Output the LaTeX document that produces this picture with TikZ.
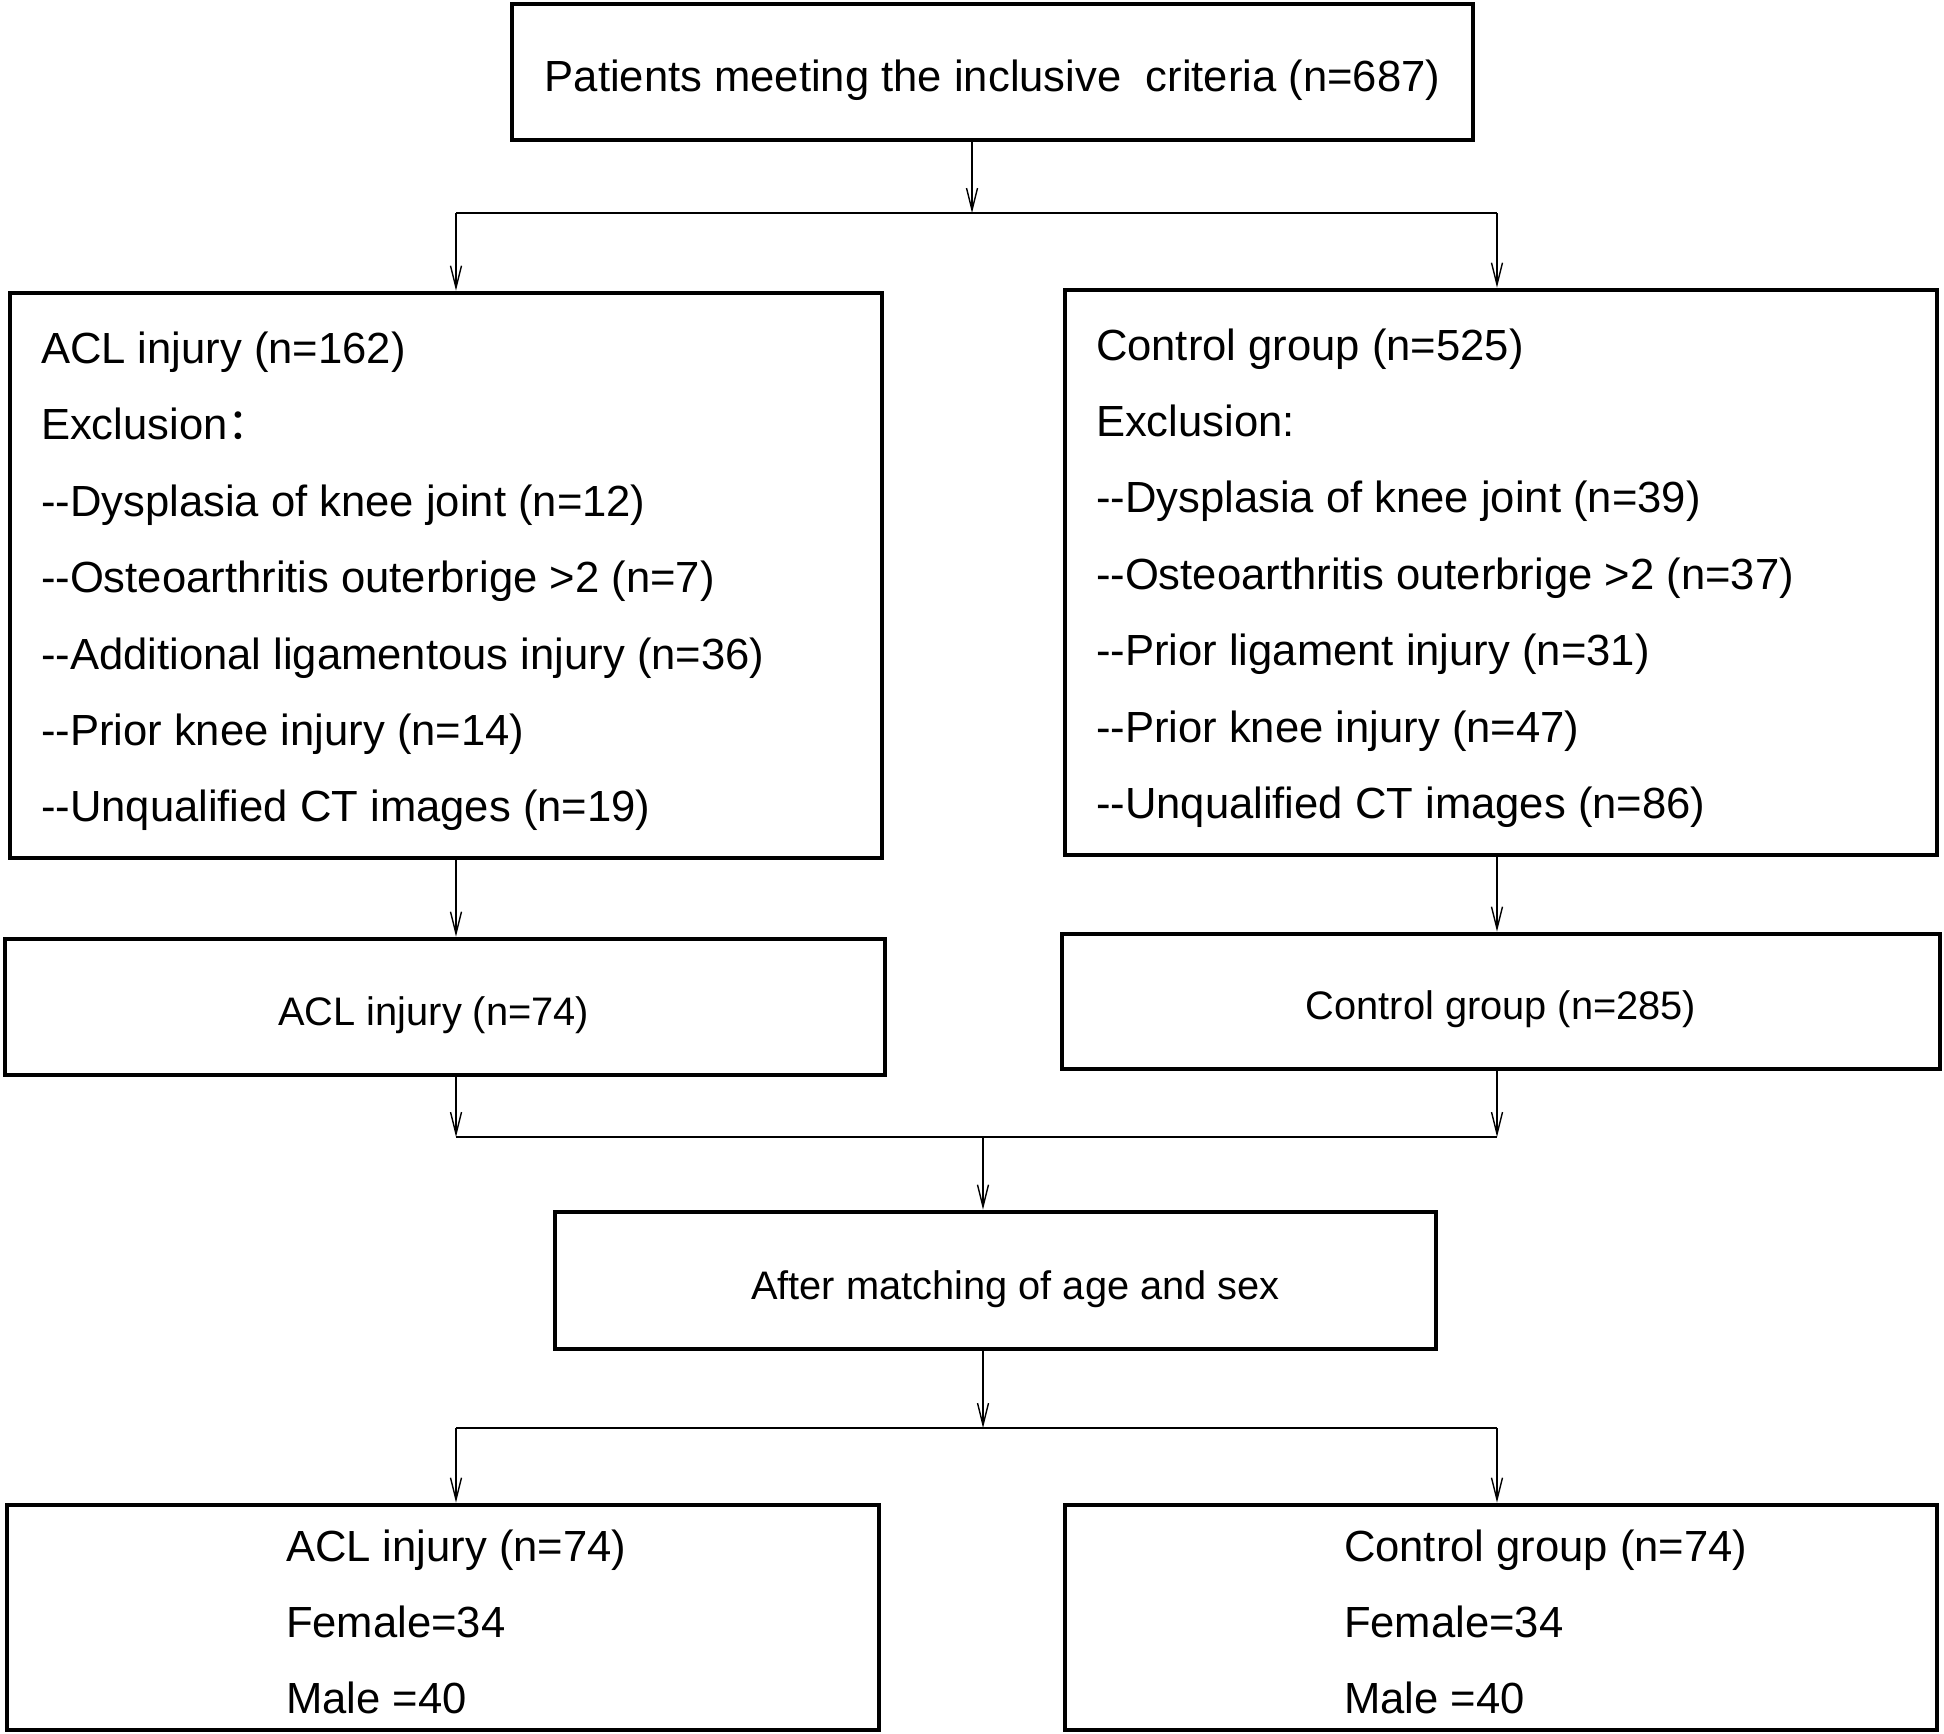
\documentclass[tikz,border=0pt]{standalone}
\usepackage{fontspec}
\setmainfont{Liberation Sans}
\newfontfamily\cjk{Noto Sans CJK SC}
\usepackage{tikz}
\usetikzlibrary{arrows.meta,positioning,calc}
\tikzset{
  >={Straight Barb[length=11pt,width=5.5pt]},
  caja/.style={draw, line width=2.4pt, inner sep=0pt},
  texto/.style={inner sep=0pt, align=left},
  grande/.style={font=\fontsize{21.8}{38.2}\selectfont},
  chico/.style={font=\fontsize{19.9}{24}\selectfont},
  flecha/.style={->, line width=0.7pt},
  barra/.style={line width=1.3pt},
}

\begin{document}
\begin{tikzpicture}[x=0.5pt, y=-0.5pt] % 1 px de la figura = 0.5pt
\useasboundingbox (0,0) rectangle (1944,1734);

% Cajas
\node[caja, minimum width=480.5pt, minimum height=68pt] (inicio) at (992.5,72) {};
\node[caja, minimum width=436pt, minimum height=282.5pt] (aclA) at (446,575.5) {};
\node[caja, minimum width=436pt, minimum height=282.5pt] (ctrlA) at (1501,572.5) {};
\node[caja, minimum width=440pt, minimum height=68pt] (aclB) at (445,1007) {};
\node[caja, minimum width=439pt, minimum height=67.5pt] (ctrlB) at (1501,1001.5) {};
\node[caja, minimum width=440.5pt, minimum height=68.5pt] (pareo) at (995.5,1280.5) {};
\node[caja, minimum width=436pt, minimum height=112.5pt] (aclC) at (443,1617.5) {};
\node[caja, minimum width=436pt, minimum height=112.5pt] (ctrlC) at (1501,1617.5) {};

% Textos
\node[texto, grande] (inicioT) at ([yshift=-4.3pt]inicio.center)
  {Patients meeting the inclusive\ \ criteria (n=687)};

\node[texto, grande, anchor=west] (aclAT) at ([xshift=16.5pt, yshift=-3pt]aclA.west)
  {ACL injury (n=162)\\
   Exclusion{\cjk ：}\\
   -{}-Dysplasia of knee joint (n=12)\\
   -{}-Osteoarthritis outerbrige >2 (n=7)\\
   -{}-Additional ligamentous injury (n=36)\\
   -{}-Prior knee injury (n=14)\\
   -{}-Unqualified CT images (n=19)};

\node[texto, grande, anchor=west] (ctrlAT) at ([xshift=16.5pt, yshift=-2.8pt]ctrlA.west)
  {Control group (n=525)\\
   Exclusion:\\
   -{}-Dysplasia of knee joint (n=39)\\
   -{}-Osteoarthritis outerbrige >2 (n=37)\\
   -{}-Prior ligament injury (n=31)\\
   -{}-Prior knee injury (n=47)\\
   -{}-Unqualified CT images (n=86)};

\node[texto, chico] (aclBT) at ([xshift=-5.6pt, yshift=-4.3pt]aclB.center) {ACL injury (n=74)};
\node[texto, chico] (ctrlBT) at ([yshift=-3.7pt]ctrlB.center) {Control group (n=285)};
\node[texto, chico] (pareoT) at ([xshift=10pt, yshift=-4.3pt]pareo.center) {After matching of age and sex};

\node[texto, grande, anchor=west] (aclCT) at ([xshift=140.5pt, yshift=-2.2pt]aclC.west)
  {ACL injury (n=74)\\Female=34\\Male =40};
\node[texto, grande, anchor=west] (ctrlCT) at ([xshift=140.5pt, yshift=-2.2pt]ctrlC.west)
  {Control group (n=74)\\Female=34\\Male =40};

% Uniones
\coordinate (s1) at (972,213);
\coordinate (hL1) at (456,213);
\coordinate (hR1) at (1497,213);
\coordinate (hL2) at (456,1137);
\coordinate (hR2) at (1497,1137);
\coordinate (s2) at (983,1137);
\coordinate (s3) at (983,1428);
\coordinate (hL3) at (456,1428);
\coordinate (hR3) at (1497,1428);

% Conectores
\draw[flecha] (inicio.south -| s1) -- (s1);
\draw[barra] (hL1) -- (hR1);
\draw[flecha] (hL1) -- (hL1 |- aclA.north);
\draw[flecha] (hR1) -- (hR1 |- ctrlA.north);

\draw[flecha] (hL1 |- aclA.south) -- (hL1 |- aclB.north);
\draw[flecha] (hR1 |- ctrlA.south) -- (hR1 |- ctrlB.north);

\draw[flecha] (hL2 |- aclB.south) -- (hL2);
\draw[flecha] (hR2 |- ctrlB.south) -- (hR2);
\draw[barra] (hL2) -- (hR2);
\draw[flecha] (s2) -- (s2 |- pareo.north);

\draw[flecha] (pareo.south -| s3) -- (s3);
\draw[barra] (hL3) -- (hR3);
\draw[flecha] (hL3) -- (hL3 |- aclC.north);
\draw[flecha] (hR3) -- (hR3 |- ctrlC.north);

\end{tikzpicture}
\end{document}
